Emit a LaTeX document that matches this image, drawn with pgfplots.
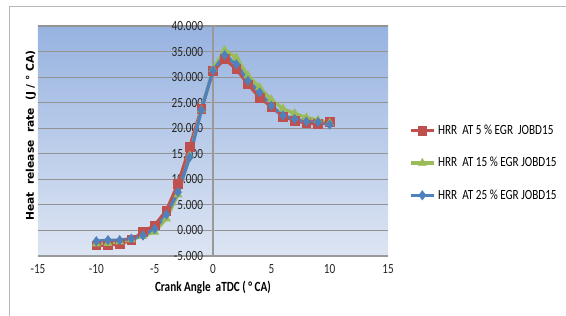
\documentclass[border=0pt]{standalone}
\usepackage{fontspec}
\setmainfont{Carlito}[FakeStretch=0.8]
\newfontfamily\dejab{DejaVu Sans}[BoldFont=* Bold]
\usepackage{pgfplots}
\pgfplotsset{compat=1.18}
\definecolor{cred}{HTML}{C0504D}
\definecolor{cgreen}{HTML}{9BBB59}
\definecolor{cblue}{HTML}{4F81BD}
\definecolor{bgtop}{HTML}{97B3E0}
\definecolor{bgbot}{HTML}{DDE5F3}
\begin{document}
\begin{tikzpicture}
\path[use as bounding box] (0,0) rectangle (424.5pt,237pt);
\draw[gray!55, line width=0.75pt] (6.75pt,-2pt) -- (6.75pt,231.75pt) -- (426pt,231.75pt);
\begin{axis}[
  at={(28.5pt,45pt)}, anchor=south west,
  scale only axis, width=262.5pt, height=172.5pt,
  xmin=-15, xmax=15, ymin=-5, ymax=40,
  xtick={-15,-10,...,15}, ytick={-5,0,...,40},
  axis x line=bottom, axis y line=center,
  hide obscured x ticks=false, hide obscured y ticks=false,
  axis line style={-, draw=gray!80, line width=0.9pt},
  axis background/.style={top color=bgtop, bottom color=bgbot},
  ymajorgrids, major grid style={draw=gray!85, line width=0.9pt},
  xtick style={draw=none},
  ytick style={draw=gray!80, line width=0.8pt},
  major tick length=4pt,
  tick label style={font=\fontsize{10.5}{12}\selectfont, text=black!85},
  /pgf/number format/assume math mode=true,
  yticklabel style={xshift=-2pt, /pgf/number format/.cd, fixed, fixed zerofill, precision=3},
  xticklabel style={yshift=-1pt},
  xlabel={Crank Angle\ \ aTDC ( ° CA)},
  ylabel={Heat\ \ release\ \ rate\ \ (J / ° CA)},
  every axis x label/.style={at={(axis description cs:0.5,0)}, anchor=center, yshift=-23.5pt, font=\bfseries\fontsize{10.5}{12}\selectfont},
  every axis y label/.style={at={(axis description cs:-0.02,0.524)}, anchor=center, rotate=90, font=\dejab\bfseries\fontsize{8}{10}\selectfont},
  legend style={at={(axis description cs:1.06,0.404)}, anchor=west, draw=none, fill=none,
    font=\fontsize{10.5}{12}\selectfont, row sep=11.5pt, inner sep=0pt},
  legend cell align=left,
  legend image code/.code={\draw[mark repeat=2,mark phase=2] plot coordinates {(0pt,0pt) (8.6pt,0pt) (17.2pt,0pt)};},
]
\addplot[cred, line width=2.4pt, mark=square*, mark size=3.3pt, mark options={solid, line width=0.5pt}] coordinates {
(-10,-2.9) (-9,-2.9) (-8,-2.6) (-7,-1.9) (-6,-0.3) (-5,1.0) (-4,3.9) (-3,9.1) (-2,16.3) (-1,23.8)
(0,31.2) (1,33.5) (2,31.6) (3,28.6) (4,26.0) (5,24.2) (6,22.3) (7,21.5) (8,21.0) (9,20.9) (10,21.2)};
\addlegendentry{HRR\ \ AT 5 \% EGR\ \ JOBD15}
\addplot[cgreen, line width=2.4pt, mark=triangle*, mark size=3.4pt, mark options={solid, line width=0.5pt}] coordinates {
(-10,-2.6) (-9,-2.5) (-8,-2.2) (-7,-1.8) (-6,-1.1) (-5,-0.3) (-4,2.3) (-3,7.0) (-2,14.6) (-1,23.6)
(0,31.6) (1,35.3) (2,33.8) (3,30.3) (4,28.0) (5,25.6) (6,23.8) (7,22.9) (8,22.1) (9,21.6) (10,21.0)};
\addlegendentry{HRR\ \ AT 15 \% EGR JOBD15}
\addplot[cblue, line width=2.4pt, mark=diamond*, mark size=3.4pt, mark options={solid, line width=0.5pt}] coordinates {
(-10,-2.1) (-9,-1.9) (-8,-1.9) (-7,-1.6) (-6,-1.0) (-5,0.3) (-4,3.1) (-3,7.5) (-2,14.3) (-1,23.5)
(0,31.3) (1,34.3) (2,32.5) (3,29.3) (4,27.0) (5,24.4) (6,22.5) (7,21.8) (8,21.3) (9,21.2) (10,20.7)};
\addlegendentry{HRR\ \ AT 25 \% EGR JOBD15}
\end{axis}
\end{tikzpicture}
\end{document}
